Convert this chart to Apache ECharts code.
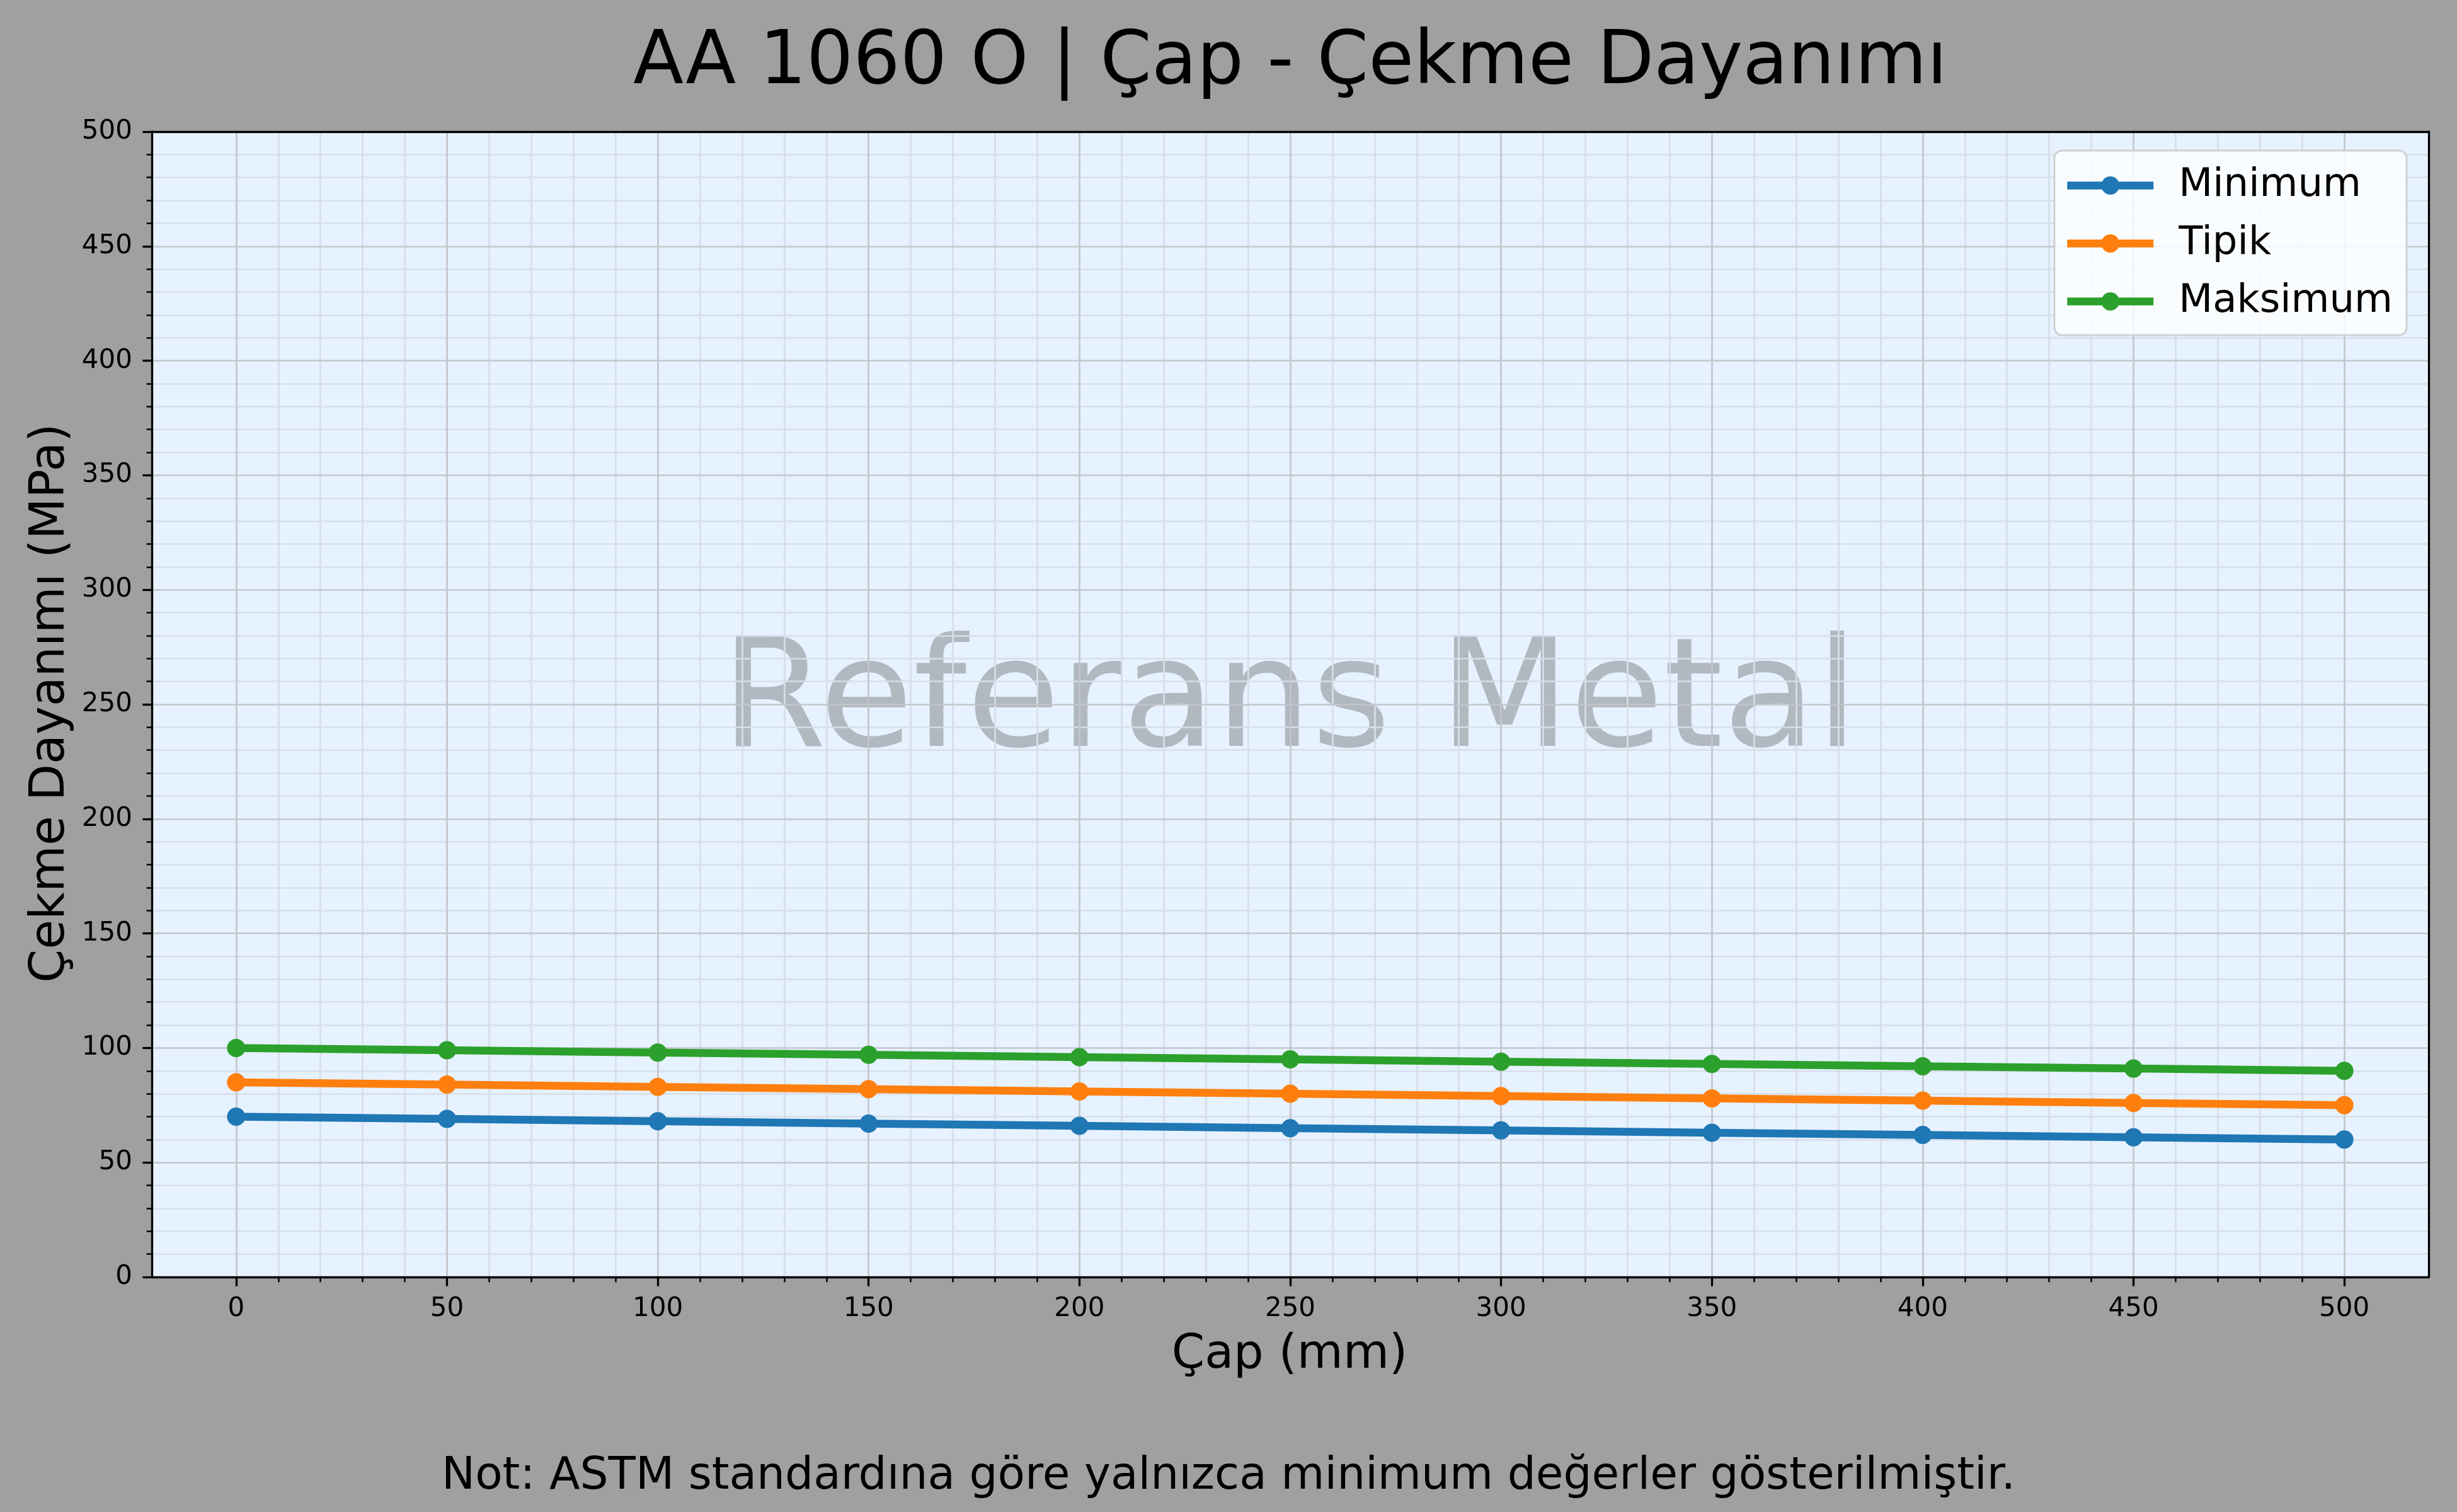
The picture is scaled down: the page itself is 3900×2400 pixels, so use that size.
<!DOCTYPE html>
<html>
<head>
<meta charset="utf-8">
<script src="https://cdn.jsdelivr.net/npm/echarts@6/dist/echarts.min.js"></script>
<style>
html,body{margin:0;padding:0;background:#a0a0a0;}
#c{width:3900px;height:2400px;}
</style>
</head>
<body>
<div id="c"></div>
<script>
const diameters = [0, 50, 100, 150, 200, 250, 300, 350, 400, 450, 500];
const minimumValues = [70, 69, 68, 67, 66, 65, 64, 63, 62, 61, 60];
const typicalValues = [85, 84, 83, 82, 81, 80, 79, 78, 77, 76, 75];
const maximumValues = [100, 99, 98, 97, 96, 95, 94, 93, 92, 91, 90];
const seriesNames = ['Minimum', 'Tipik', 'Maksimum'];
const xMajorTicks = [0, 50, 100, 150, 200, 250, 300, 350, 400, 450, 500];
const xMinorTicks = [10,20,30,40,60,70,80,90,110,120,130,140,160,170,180,190,210,220,230,240,260,270,280,290,310,320,330,340,360,370,380,390,410,420,430,440,460,470,480,490];
const titleText = 'AA 1060 O | Çap - Çekme Dayanımı';
const xLabel = 'Çap (mm)';
const yLabel = 'Çekme Dayanımı (MPa)';
const noteText = 'Not: ASTM standardına göre yalnızca minimum değerler gösterilmiştir.';
const watermarkText = 'Referans Metal';

const FONT = 'DejaVu Sans';
const colors = ['#1f77b4', '#ff7f0e', '#2ca02c'];
const MAJOR_GRID = '#c3c6ca';
const MINOR_GRID = '#d6dee8';

function pairs(vals) { return diameters.map((d, i) => [d, vals[i]]); }

const chart = echarts.init(document.getElementById('c'), null, {width: 3900, height: 2400});

const option = {
  backgroundColor: '#a0a0a0',
  animation: false,
  textStyle: {fontFamily: FONT},
  grid: {
    left: 241, top: 209, right: 45, bottom: 373,
    show: true, backgroundColor: '#e6f2ff', borderWidth: 0,
    containLabel: false
  },
  xAxis: [
    {
      type: 'value', min: -20, max: 520, position: 'bottom',
      axisLine: {show: true, onZero: false, lineStyle: {color: '#000', width: 3.3}},
      axisTick: {show: true, customValues: xMajorTicks, length: 14.6, lineStyle: {color: '#000', width: 3.3}},
      axisLabel: {show: true, customValues: xMajorTicks, fontSize: 42, color: '#000', fontFamily: FONT, margin: 30},
      splitLine: {show: true, lineStyle: {color: MAJOR_GRID, width: 2.7}},
      z: 3
    },
    {
      type: 'value', min: -20, max: 520, position: 'bottom',
      axisLine: {show: false},
      axisTick: {show: true, customValues: xMinorTicks, length: 8.3, lineStyle: {color: '#000', width: 2.5}},
      axisLabel: {show: false, customValues: xMinorTicks},
      splitLine: {show: true, lineStyle: {color: MINOR_GRID, width: 2.7}},
      z: 2
    },
    {
      type: 'value', min: -20, max: 520, position: 'top',
      axisLine: {show: true, onZero: false, lineStyle: {color: '#000', width: 3.3}},
      axisTick: {show: false}, axisLabel: {show: false}, splitLine: {show: false},
      z: 4
    }
  ],
  yAxis: [
    {
      type: 'value', min: 0, max: 500, interval: 50, position: 'left',
      axisLine: {show: true, onZero: false, lineStyle: {color: '#000', width: 3.3}},
      axisTick: {show: true, length: 14.6, lineStyle: {color: '#000', width: 3.3}},
      minorTick: {show: true, splitNumber: 5, length: 8.3, lineStyle: {color: '#000', width: 2.5}},
      axisLabel: {fontSize: 42, color: '#000', fontFamily: FONT, margin: 31},
      splitLine: {show: true, lineStyle: {color: MAJOR_GRID, width: 2.7}},
      minorSplitLine: {show: true, lineStyle: {color: MINOR_GRID, width: 2.7}},
      z: 3
    },
    {
      type: 'value', min: 0, max: 500, interval: 50, position: 'right',
      axisLine: {show: true, onZero: false, lineStyle: {color: '#000', width: 3.3}},
      axisTick: {show: false}, axisLabel: {show: false}, splitLine: {show: false},
      z: 4
    }
  ],
  legend: {
    orient: 'vertical',
    left: 3261, top: 239,
    padding: [24, 22, 22, 14],
    itemWidth: 137, itemHeight: 36, itemGap: 29,
    backgroundColor: 'rgba(255,255,255,0.8)',
    borderColor: 'rgba(204,204,204,0.9)', borderWidth: 3, borderRadius: 12,
    lineStyle: {width: 12.5},
    textStyle: {fontSize: 62.5, color: '#000', fontFamily: FONT, lineHeight: 62, padding: [0, 0, 0, 35]},
    data: seriesNames,
    z: 10
  },
  graphic: [
    {type: 'text', x: 2047, y: 1121, z: 1, silent: true,
     style: {text: watermarkText, fontSize: 241, fontFamily: FONT, fill: 'rgba(98,98,98,0.4)', align: 'center', verticalAlign: 'middle'}},
    {type: 'text', x: 2048, y: 102,
     style: {text: titleText, fontSize: 117, fontFamily: FONT, fill: '#000', align: 'center', verticalAlign: 'middle'}},
    {type: 'text', x: 2047, y: 2152,
     style: {text: xLabel, fontSize: 75, fontFamily: FONT, fill: '#000', align: 'center', verticalAlign: 'middle'}},
    {type: 'text', x: 81, y: 1116, rotation: Math.PI / 2,
     style: {text: yLabel, fontSize: 76, fontFamily: FONT, fill: '#000', align: 'center', verticalAlign: 'middle'}},
    {type: 'text', x: 1950, y: 2345,
     style: {text: noteText, fontSize: 71, fontFamily: FONT, fill: '#000', align: 'center', verticalAlign: 'middle'}}
  ],
  series: [
    {name: seriesNames[0], type: 'line', data: pairs(minimumValues), xAxisIndex: 0, yAxisIndex: 0,
     symbol: 'circle', symbolSize: 29, color: colors[0], lineStyle: {width: 12.5, color: colors[0]}, itemStyle: {color: colors[0]}, z: 5},
    {name: seriesNames[1], type: 'line', data: pairs(typicalValues), xAxisIndex: 0, yAxisIndex: 0,
     symbol: 'circle', symbolSize: 29, color: colors[1], lineStyle: {width: 12.5, color: colors[1]}, itemStyle: {color: colors[1]}, z: 6},
    {name: seriesNames[2], type: 'line', data: pairs(maximumValues), xAxisIndex: 0, yAxisIndex: 0,
     symbol: 'circle', symbolSize: 29, color: colors[2], lineStyle: {width: 12.5, color: colors[2]}, itemStyle: {color: colors[2]}, z: 7}
  ]
};
chart.setOption(option);
</script>
</body>
</html>
